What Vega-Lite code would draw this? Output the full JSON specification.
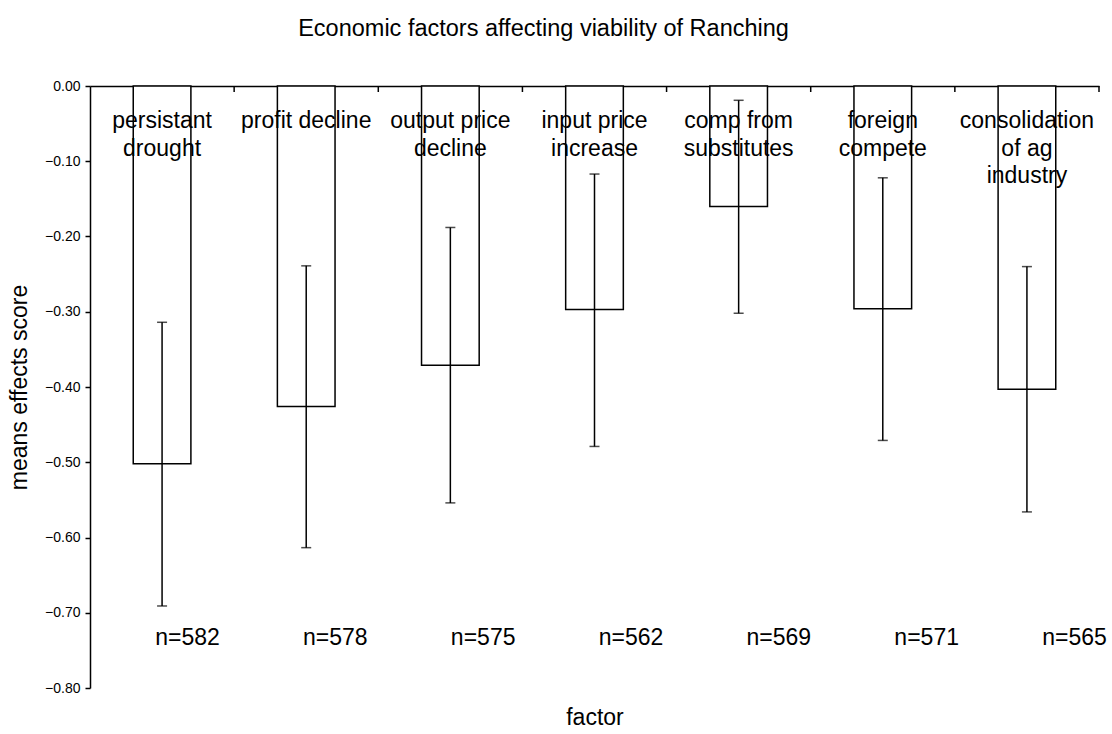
{
  "$schema": "https://vega.github.io/schema/vega-lite/v6.json",
  "width": 1009,
  "height": 602,
  "autosize": "none",
  "padding": {"left": 90, "top": 86, "right": 13, "bottom": 46},
  "background": "white",
  "config": {
    "font": "Liberation Sans",
    "view": {"stroke": null},
    "axis": {"labelColor": "black", "titleColor": "black", "tickColor": "black", "domainColor": "black", "grid": false, "titleFontWeight": "normal"}
  },
  "title": {
    "text": "Economic factors affecting viability of Ranching",
    "anchor": "start",
    "dx": 289.6,
    "fontSize": 23.5,
    "fontWeight": "normal",
    "color": "black",
    "baseline": "alphabetic",
    "offset": 20
  },
  "data": {
    "values": [
      {"factor": "persistant drought", "label": "persistant\ndrought", "mean": -0.502, "lo": -0.691, "hi": -0.314, "nlabel": "n=582"},
      {"factor": "profit decline", "label": "profit decline", "mean": -0.426, "lo": -0.6135, "hi": -0.239, "nlabel": "n=578"},
      {"factor": "output price decline", "label": "output price\ndecline", "mean": -0.371, "lo": -0.554, "hi": -0.188, "nlabel": "n=575"},
      {"factor": "input price increase", "label": "input price\nincrease", "mean": -0.297, "lo": -0.479, "hi": -0.117, "nlabel": "n=562"},
      {"factor": "comp from substitutes", "label": "comp from\nsubstitutes", "mean": -0.160, "lo": -0.302, "hi": -0.019, "nlabel": "n=569"},
      {"factor": "foreign compete", "label": "foreign\ncompete", "mean": -0.296, "lo": -0.471, "hi": -0.122, "nlabel": "n=571"},
      {"factor": "consolidation of ag industry", "label": "consolidation\nof ag\nindustry", "mean": -0.403, "lo": -0.566, "hi": -0.240, "nlabel": "n=565"}
    ]
  },
  "layer": [
    {
      "mark": {"type": "bar", "fill": "white", "stroke": "black", "strokeWidth": 1.5},
      "encoding": {
        "x": {"field": "factor", "type": "nominal", "sort": null,
              "scale": {"paddingInner": 0.6, "paddingOuter": 0.3},
              "axis": {"orient": "bottom", "title": "factor", "labels": false, "ticks": false, "domain": false, "titleFontSize": 23, "titlePadding": 18}},
        "y": {"field": "mean", "type": "quantitative", "title": "means effects score",
              "scale": {"domain": [-0.8, 0], "nice": false, "zero": false},
              "axis": {"values": [0, -0.1, -0.2, -0.3, -0.4, -0.5, -0.6, -0.7, -0.8], "format": ".2f", "labelFontSize": 14, "tickSize": 5, "labelPadding": 5, "titleFontSize": 23, "titlePadding": 13, "domainWidth": 1.5, "tickWidth": 1.5}}
      }
    },
    {
      "mark": {"type": "rule", "stroke": "black", "strokeWidth": 1.5},
      "encoding": {
        "x": {"field": "factor", "type": "nominal", "sort": null, "scale": {"paddingInner": 0, "paddingOuter": 0}, "axis": null},
        "y": {"field": "lo", "type": "quantitative", "title": "means effects score"},
        "y2": {"field": "hi"}
      }
    },
    {
      "mark": {"type": "tick", "color": "black", "size": 10, "thickness": 1.5, "orient": "horizontal"},
      "encoding": {
        "x": {"field": "factor", "type": "nominal", "sort": null, "scale": {"paddingInner": 0, "paddingOuter": 0}, "axis": null},
        "y": {"field": "lo", "type": "quantitative", "title": "means effects score"}
      }
    },
    {
      "mark": {"type": "tick", "color": "black", "size": 10, "thickness": 1.5, "orient": "horizontal"},
      "encoding": {
        "x": {"field": "factor", "type": "nominal", "sort": null, "scale": {"paddingInner": 0, "paddingOuter": 0}, "axis": null},
        "y": {"field": "hi", "type": "quantitative", "title": "means effects score"}
      }
    },
    {
      "mark": {"type": "rule", "stroke": "black", "strokeWidth": 1.5},
      "encoding": {
        "x": {"field": "factor", "type": "nominal", "sort": null, "bandPosition": 1, "scale": {"paddingInner": 0, "paddingOuter": 0}, "axis": null},
        "y": {"datum": 0, "type": "quantitative", "title": "means effects score"},
        "y2": {"datum": -0.008}
      }
    },
    {
      "mark": {"type": "text", "fontSize": 23, "color": "black", "align": "center", "baseline": "alphabetic", "lineBreak": "\n", "lineHeight": 27.5},
      "encoding": {
        "x": {"field": "factor", "type": "nominal", "sort": null, "scale": {"paddingInner": 0, "paddingOuter": 0},
              "axis": {"orient": "top", "labels": false, "ticks": false, "title": null, "domainWidth": 1.5}},
        "y": {"datum": -0.0562, "type": "quantitative", "title": "means effects score"},
        "text": {"field": "label"}
      }
    },
    {
      "mark": {"type": "text", "fontSize": 23, "color": "black", "align": "center", "baseline": "alphabetic"},
      "encoding": {
        "x": {"field": "factor", "type": "nominal", "sort": null, "scale": {"type": "point", "range": [97.5, 984.5], "padding": 0}, "axis": null},
        "y": {"datum": -0.743, "type": "quantitative", "title": "means effects score"},
        "text": {"field": "nlabel"}
      }
    }
  ],
  "resolve": {"scale": {"x": "independent"}, "axis": {"x": "independent"}}
}
